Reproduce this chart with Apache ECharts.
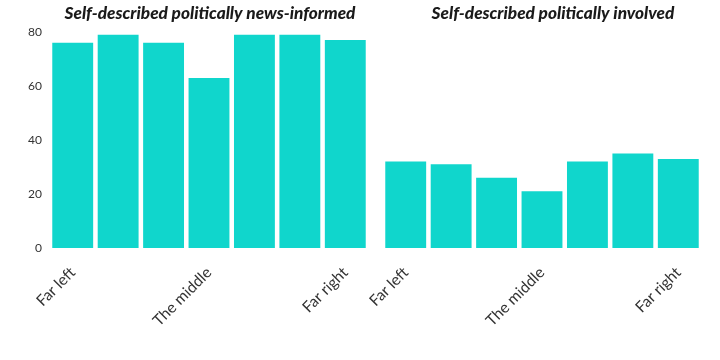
<!DOCTYPE html>
<html>
<head>
<meta charset="utf-8">
<script src="https://cdn.jsdelivr.net/npm/echarts@6/dist/echarts.min.js"></script>
<style>html,body{margin:0;padding:0;background:#fff}#c{width:720px;height:360px}</style>
</head>
<body>
<div id="c"></div>
<script>
var categories = ["Far left", "", "", "The middle", "", "", "Far right"];
var newsInformed = [76, 79, 76, 63, 79, 79, 77];
var involved = [32, 31, 26, 21, 32, 35, 33];
var panelTitles = ["Self-described politically news-informed", "Self-described politically involved"];
var yTicks = [0, 20, 40, 60, 80];

var color = "#10D6CC";
var chart = echarts.init(document.getElementById('c'), null, {renderer: 'canvas'});
function xAxis(gi) {
  return {
    type: 'category', gridIndex: gi, data: categories,
    axisLine: {show: false}, axisTick: {show: false},
    axisLabel: {interval: 0, rotate: 45, margin: 22, fontSize: 15.5, color: '#333', fontFamily: 'Lato'}
  };
}
function yAxis(gi, show) {
  return {
    type: 'value', gridIndex: gi, min: yTicks[0], max: yTicks[yTicks.length - 1], interval: 20,
    splitLine: {show: false}, axisLine: {show: false}, axisTick: {show: false},
    axisLabel: {show: show, fontSize: 12, color: '#333', margin: 8, fontFamily: 'Lato'}
  };
}
var titleStyle = {fontSize: 17.2, fontWeight: 900, fontStyle: 'italic', color: '#1a1a1a', fontFamily: 'Lato'};
chart.setOption({
  animation: false,
  title: [
    {text: panelTitles[0], left: 205, top: 0, textAlign: 'center', textStyle: titleStyle},
    {text: panelTitles[1], left: 548, top: 0, textAlign: 'center', textStyle: titleStyle}
  ],
  grid: [
    {left: 50, width: 318, top: 32, bottom: 112},
    {left: 383, width: 318, top: 32, bottom: 112}
  ],
  xAxis: [xAxis(0), xAxis(1)],
  yAxis: [yAxis(0, true), yAxis(1, false)],
  series: [
    {type: 'bar', xAxisIndex: 0, yAxisIndex: 0, data: newsInformed, barCategoryGap: '10%', itemStyle: {color: color}},
    {type: 'bar', xAxisIndex: 1, yAxisIndex: 1, data: involved, barCategoryGap: '10%', itemStyle: {color: color}}
  ]
});
</script>
</body>
</html>
